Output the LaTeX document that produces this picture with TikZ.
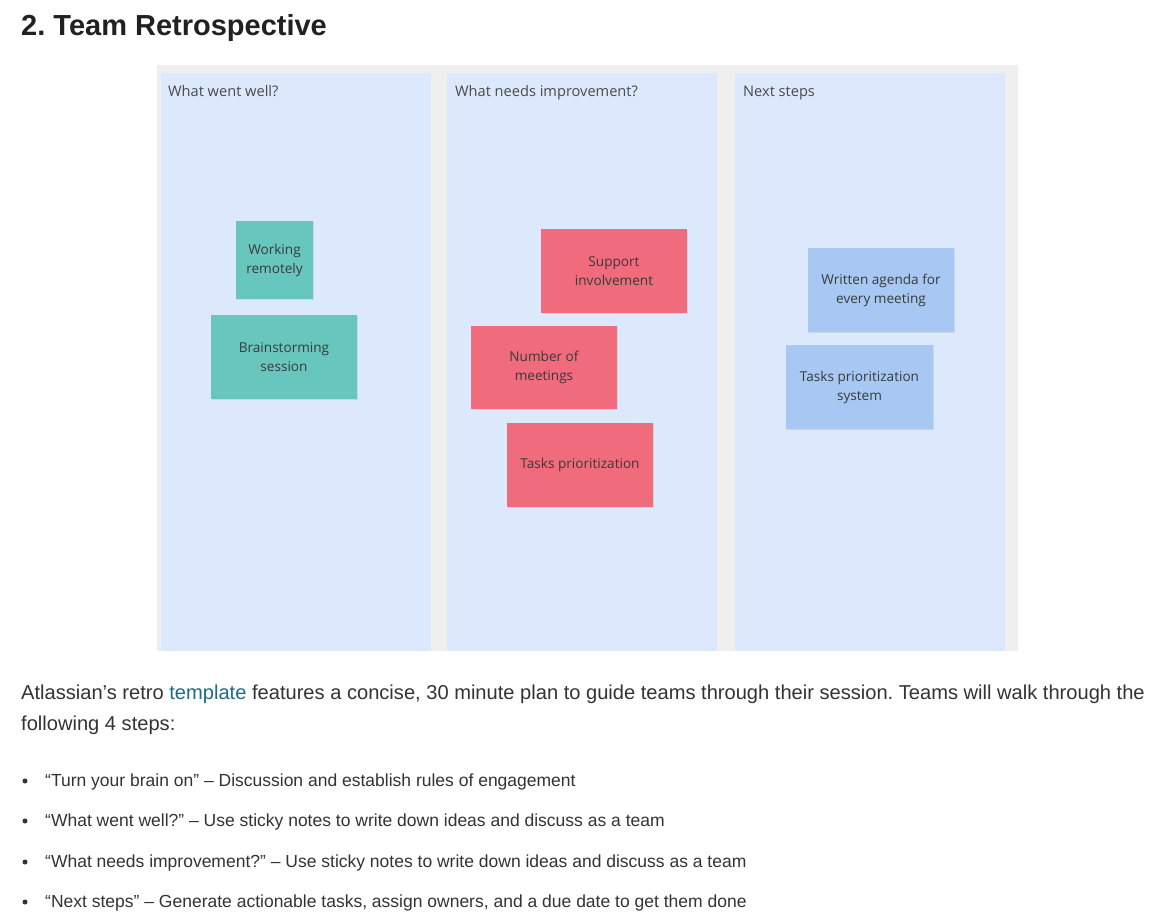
\documentclass[tikz,border=0pt]{standalone}
\usepackage{fontspec}
\usetikzlibrary{shadows}
\setmainfont{Liberation Sans}
\newfontfamily\notefont{Open Sans}
\frenchspacing
\definecolor{board}{HTML}{EFEFEF}
\definecolor{column}{HTML}{DCE8FB}
\definecolor{tealnote}{HTML}{67C7BF}
\definecolor{pinknote}{HTML}{F06B7C}
\definecolor{bluenote}{HTML}{A6C8F2}
\definecolor{notetext}{HTML}{3A3A3A}
\definecolor{headertext}{HTML}{4A4A4A}
\definecolor{bodytext}{HTML}{333333}
\definecolor{linkcol}{HTML}{1F6A8A}
\tikzset{
  colbox/.style={fill=column, draw=none},
  header/.style={anchor=base west, inner sep=0pt, text=headertext, font=\notefont\fontsize{14.6}{17}\selectfont},
  note/.style={draw=none, inner sep=0pt, align=center, text=notetext,
    font=\notefont\fontsize{13.6}{19}\selectfont,
    drop shadow={shadow xshift=1pt, shadow yshift=-1pt, opacity=0.18}},
  tealsticky/.style={note, fill=tealnote},
  pinksticky/.style={note, fill=pinknote},
  bluesticky/.style={note, fill=bluenote},
  bodyline/.style={anchor=base west, inner sep=0pt, text=bodytext, font=\fontsize{20.1}{24}\selectfont},
  bulletline/.style={anchor=base west, inner sep=0pt, text=bodytext, font=\fontsize{17.5}{20}\selectfont},
  bulletdot/.style={circle, fill=bodytext, inner sep=0pt, minimum size=5pt}
}
\begin{document}
\begin{tikzpicture}[x=1pt,y=-1pt]
\useasboundingbox[fill=white] (0,0) rectangle (1170,923);
% title
\node[anchor=base west, inner sep=0pt, text=black!87, font=\bfseries\fontsize{29}{34}\selectfont] (title) at (21,36) {2. Team Retrospective};
% board
\fill[board] (157,65) rectangle (1018,651);
\fill[colbox] (161,73) rectangle (431,651);
\fill[colbox] (447,73) rectangle (717,651);
\fill[colbox] (735,73) rectangle (1005,651);
\node[header] (h1) at (168,97) {What went well?};
\node[header] (h2) at (455,97) {What needs improvement?};
\node[header] (h3) at (743,97) {Next steps};
% sticky notes
\node[tealsticky, minimum width=77pt, minimum height=78pt] (n1) at (274.5,260) {Working\\remotely};
\node[tealsticky, minimum width=146pt, minimum height=84pt] (n2) at (284,357) {Brainstorming\\session};
\node[pinksticky, minimum width=146pt, minimum height=84pt] (n3) at (614,271) {Support\\involvement};
\node[pinksticky, minimum width=146pt, minimum height=83pt] (n4) at (544,367.5) {Number of\\meetings};
\node[pinksticky, minimum width=146pt, minimum height=84pt] (n5) at (580,465) {Tasks prioritization};
\node[bluesticky, minimum width=146pt, minimum height=84pt] (n6) at (881,290) {Written agenda for\\every meeting};
\node[bluesticky, minimum width=147pt, minimum height=84pt] (n7) at (859.5,387) {Tasks prioritization\\system};
% body text
\node[bodyline] (p1) at (21,699) {Atlassian’s retro \textcolor{linkcol}{template} features a concise, 30 minute plan to guide teams through their session. Teams will walk through the};
\node[bodyline] (p2) at (21,730) {following 4 steps:};
\node[bulletdot] (d1) at (25,781) {};
\node[bulletline] (b1) at (45,786) {“Turn your brain on” – Discussion and establish rules of engagement};
\node[bulletdot] (d2) at (25,821) {};
\node[bulletline] (b2) at (45,826) {“What went well?” – Use sticky notes to write down ideas and discuss as a team};
\node[bulletdot] (d3) at (25,862) {};
\node[bulletline] (b3) at (45,867) {“What needs improvement?” – Use sticky notes to write down ideas and discuss as a team};
\node[bulletdot] (d4) at (25,902) {};
\node[bulletline] (b4) at (45,907) {“Next steps” – Generate actionable tasks, assign owners, and a due date to get them done};
\end{tikzpicture}
\end{document}
